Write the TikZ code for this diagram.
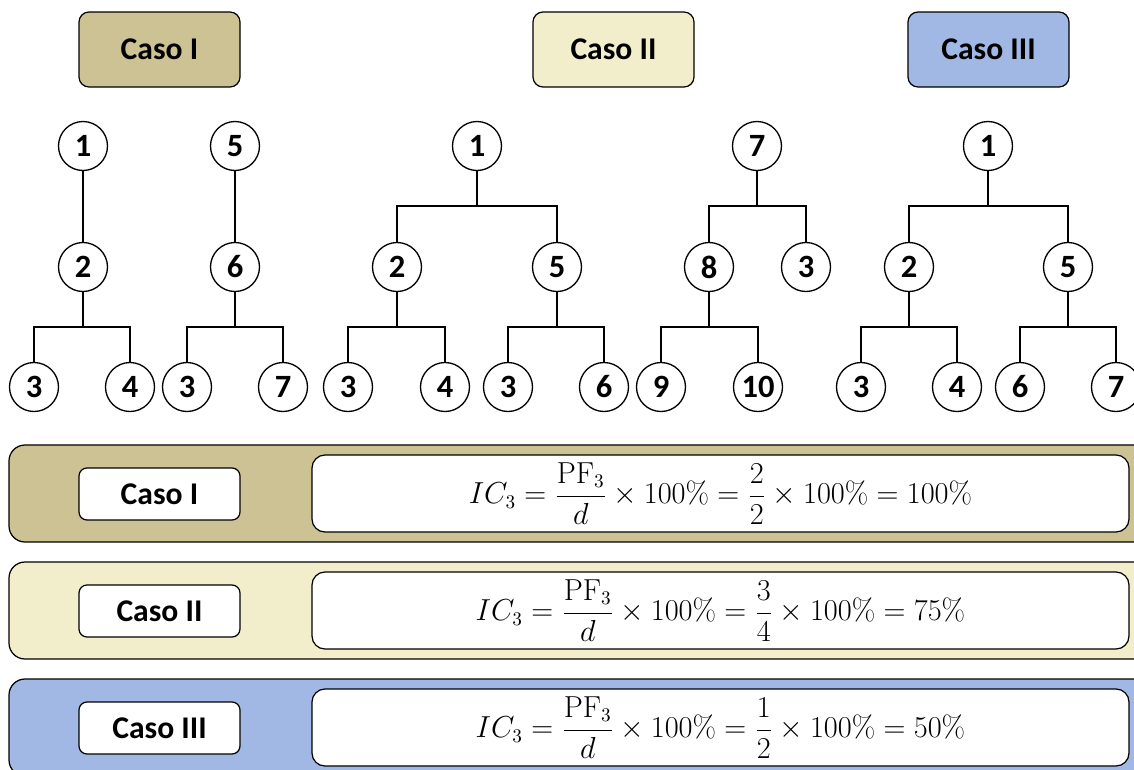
\documentclass[tikz,border=0pt]{standalone}
\usepackage{amsmath}
\usepackage[no-math]{fontspec}
\setmainfont{Carlito}
\definecolor{caseOne}{RGB}{204,194,147}
\definecolor{caseTwo}{RGB}{242,237,203}
\definecolor{caseThree}{RGB}{160,184,227}
\newcommand*{\scalePic}{0.02}
\newcommand*{\rowA}{146}
\newcommand*{\rowB}{267}
\newcommand*{\rowC}{387}
\newcommand*{\barA}{206}
\newcommand*{\barB}{327}
\newcommand*{\circNode}[4]{\node[circ] (#1) at (#2,#3) {#4};} % name, x, y, label
\newcommand*{\treeLink}[3]{\draw[edge] (#1.south) -- (#1.south |- 0,#3) -| (#2.north);} % parent, child, bar height
\newcommand*{\casePanel}[5]{% name, y top, colour, label, result
    \draw[panelline, fill=#3] (9,#2) rectangle (1165,{#2+97});
    \node[labbox] (lab#1) at (159.5,{#2+49}) {#4};
    \node[formbox] (form#1) at (720.5,{#2+48.5}) {$\displaystyle IC_3=\frac{\mathrm{PF}_3}{d}\times 100\%=#5$};
}

\begin{document}
\begin{tikzpicture}[x=\scalePic cm, y=-\scalePic cm,
    circ/.style={circle, draw, line width=0.75pt, fill=white, minimum size=49*\scalePic cm, inner sep=0pt, font=\bfseries\fontsize{18.5}{18.5}\selectfont},
    edge/.style={line width=0.7pt},
    topbox/.style={draw, line width=0.7pt, rounded corners=0.2cm, minimum width=161*\scalePic cm, minimum height=75*\scalePic cm, font=\bfseries\fontsize{18}{20}\selectfont},
    labbox/.style={draw, line width=0.7pt, fill=white, rounded corners=0.16cm, minimum width=161*\scalePic cm, minimum height=52*\scalePic cm, font=\bfseries\fontsize{18}{20}\selectfont},
    formbox/.style={draw, line width=0.7pt, fill=white, rounded corners=0.26cm, minimum width=817*\scalePic cm, minimum height=77*\scalePic cm, font=\fontsize{16.3}{19}\selectfont},
    panelline/.style={draw, line width=0.7pt, rounded corners=0.32cm}]
\clip (0,0) rectangle (1134,769);
% case headers
\node[topbox, fill=caseOne] (top1) at (159.5,49.5) {Caso I};
\node[topbox, fill=caseTwo] (top2) at (613.5,49.5) {Caso II};
\node[topbox, fill=caseThree] (top3) at (988.5,49.5) {Caso III};
% trees of case I
\circNode{A1}{83}{\rowA}{1}
\circNode{A2}{83}{\rowB}{2}
\circNode{A3}{34}{\rowC}{3}
\circNode{A4}{130}{\rowC}{4}
\circNode{B5}{235}{\rowA}{5}
\circNode{B6}{235}{\rowB}{6}
\circNode{B3}{187}{\rowC}{3}
\circNode{B7}{283}{\rowC}{7}
\draw[edge] (A1) -- (A2);
\treeLink{A2}{A3}{\barB}
\treeLink{A2}{A4}{\barB}
\draw[edge] (B5) -- (B6);
\treeLink{B6}{B3}{\barB}
\treeLink{B6}{B7}{\barB}
% trees of case II
\circNode{C1}{477}{\rowA}{1}
\circNode{C2}{397}{\rowB}{2}
\circNode{C5}{557}{\rowB}{5}
\circNode{C3a}{348}{\rowC}{3}
\circNode{C4}{445}{\rowC}{4}
\circNode{C3b}{508}{\rowC}{3}
\circNode{C6}{604}{\rowC}{6}
\treeLink{C1}{C2}{\barA}
\treeLink{C1}{C5}{\barA}
\treeLink{C2}{C3a}{\barB}
\treeLink{C2}{C4}{\barB}
\treeLink{C5}{C3b}{\barB}
\treeLink{C5}{C6}{\barB}
\circNode{D7}{757}{\rowA}{7}
\circNode{D8}{709}{\rowB}{8}
\circNode{D3}{806}{\rowB}{3}
\circNode{D9}{661}{\rowC}{9}
\circNode{D10}{758}{\rowC}{10}
\treeLink{D7}{D8}{\barA}
\treeLink{D7}{D3}{\barA}
\treeLink{D8}{D9}{\barB}
\treeLink{D8}{D10}{\barB}
% tree of case III
\circNode{E1}{988}{\rowA}{1}
\circNode{E2}{909}{\rowB}{2}
\circNode{E5}{1068}{\rowB}{5}
\circNode{E3}{861}{\rowC}{3}
\circNode{E4}{957}{\rowC}{4}
\circNode{E6}{1020}{\rowC}{6}
\circNode{E7}{1116}{\rowC}{7}
\treeLink{E1}{E2}{\barA}
\treeLink{E1}{E5}{\barA}
\treeLink{E2}{E3}{\barB}
\treeLink{E2}{E4}{\barB}
\treeLink{E5}{E6}{\barB}
\treeLink{E5}{E7}{\barB}
% results
\casePanel{1}{445}{caseOne}{Caso I}{\frac{2}{2}\times 100\%=100\%}
\casePanel{2}{562}{caseTwo}{Caso II}{\frac{3}{4}\times 100\%=75\%}
\casePanel{3}{679}{caseThree}{Caso III}{\frac{1}{2}\times 100\%=50\%}
\end{tikzpicture}
\end{document}
